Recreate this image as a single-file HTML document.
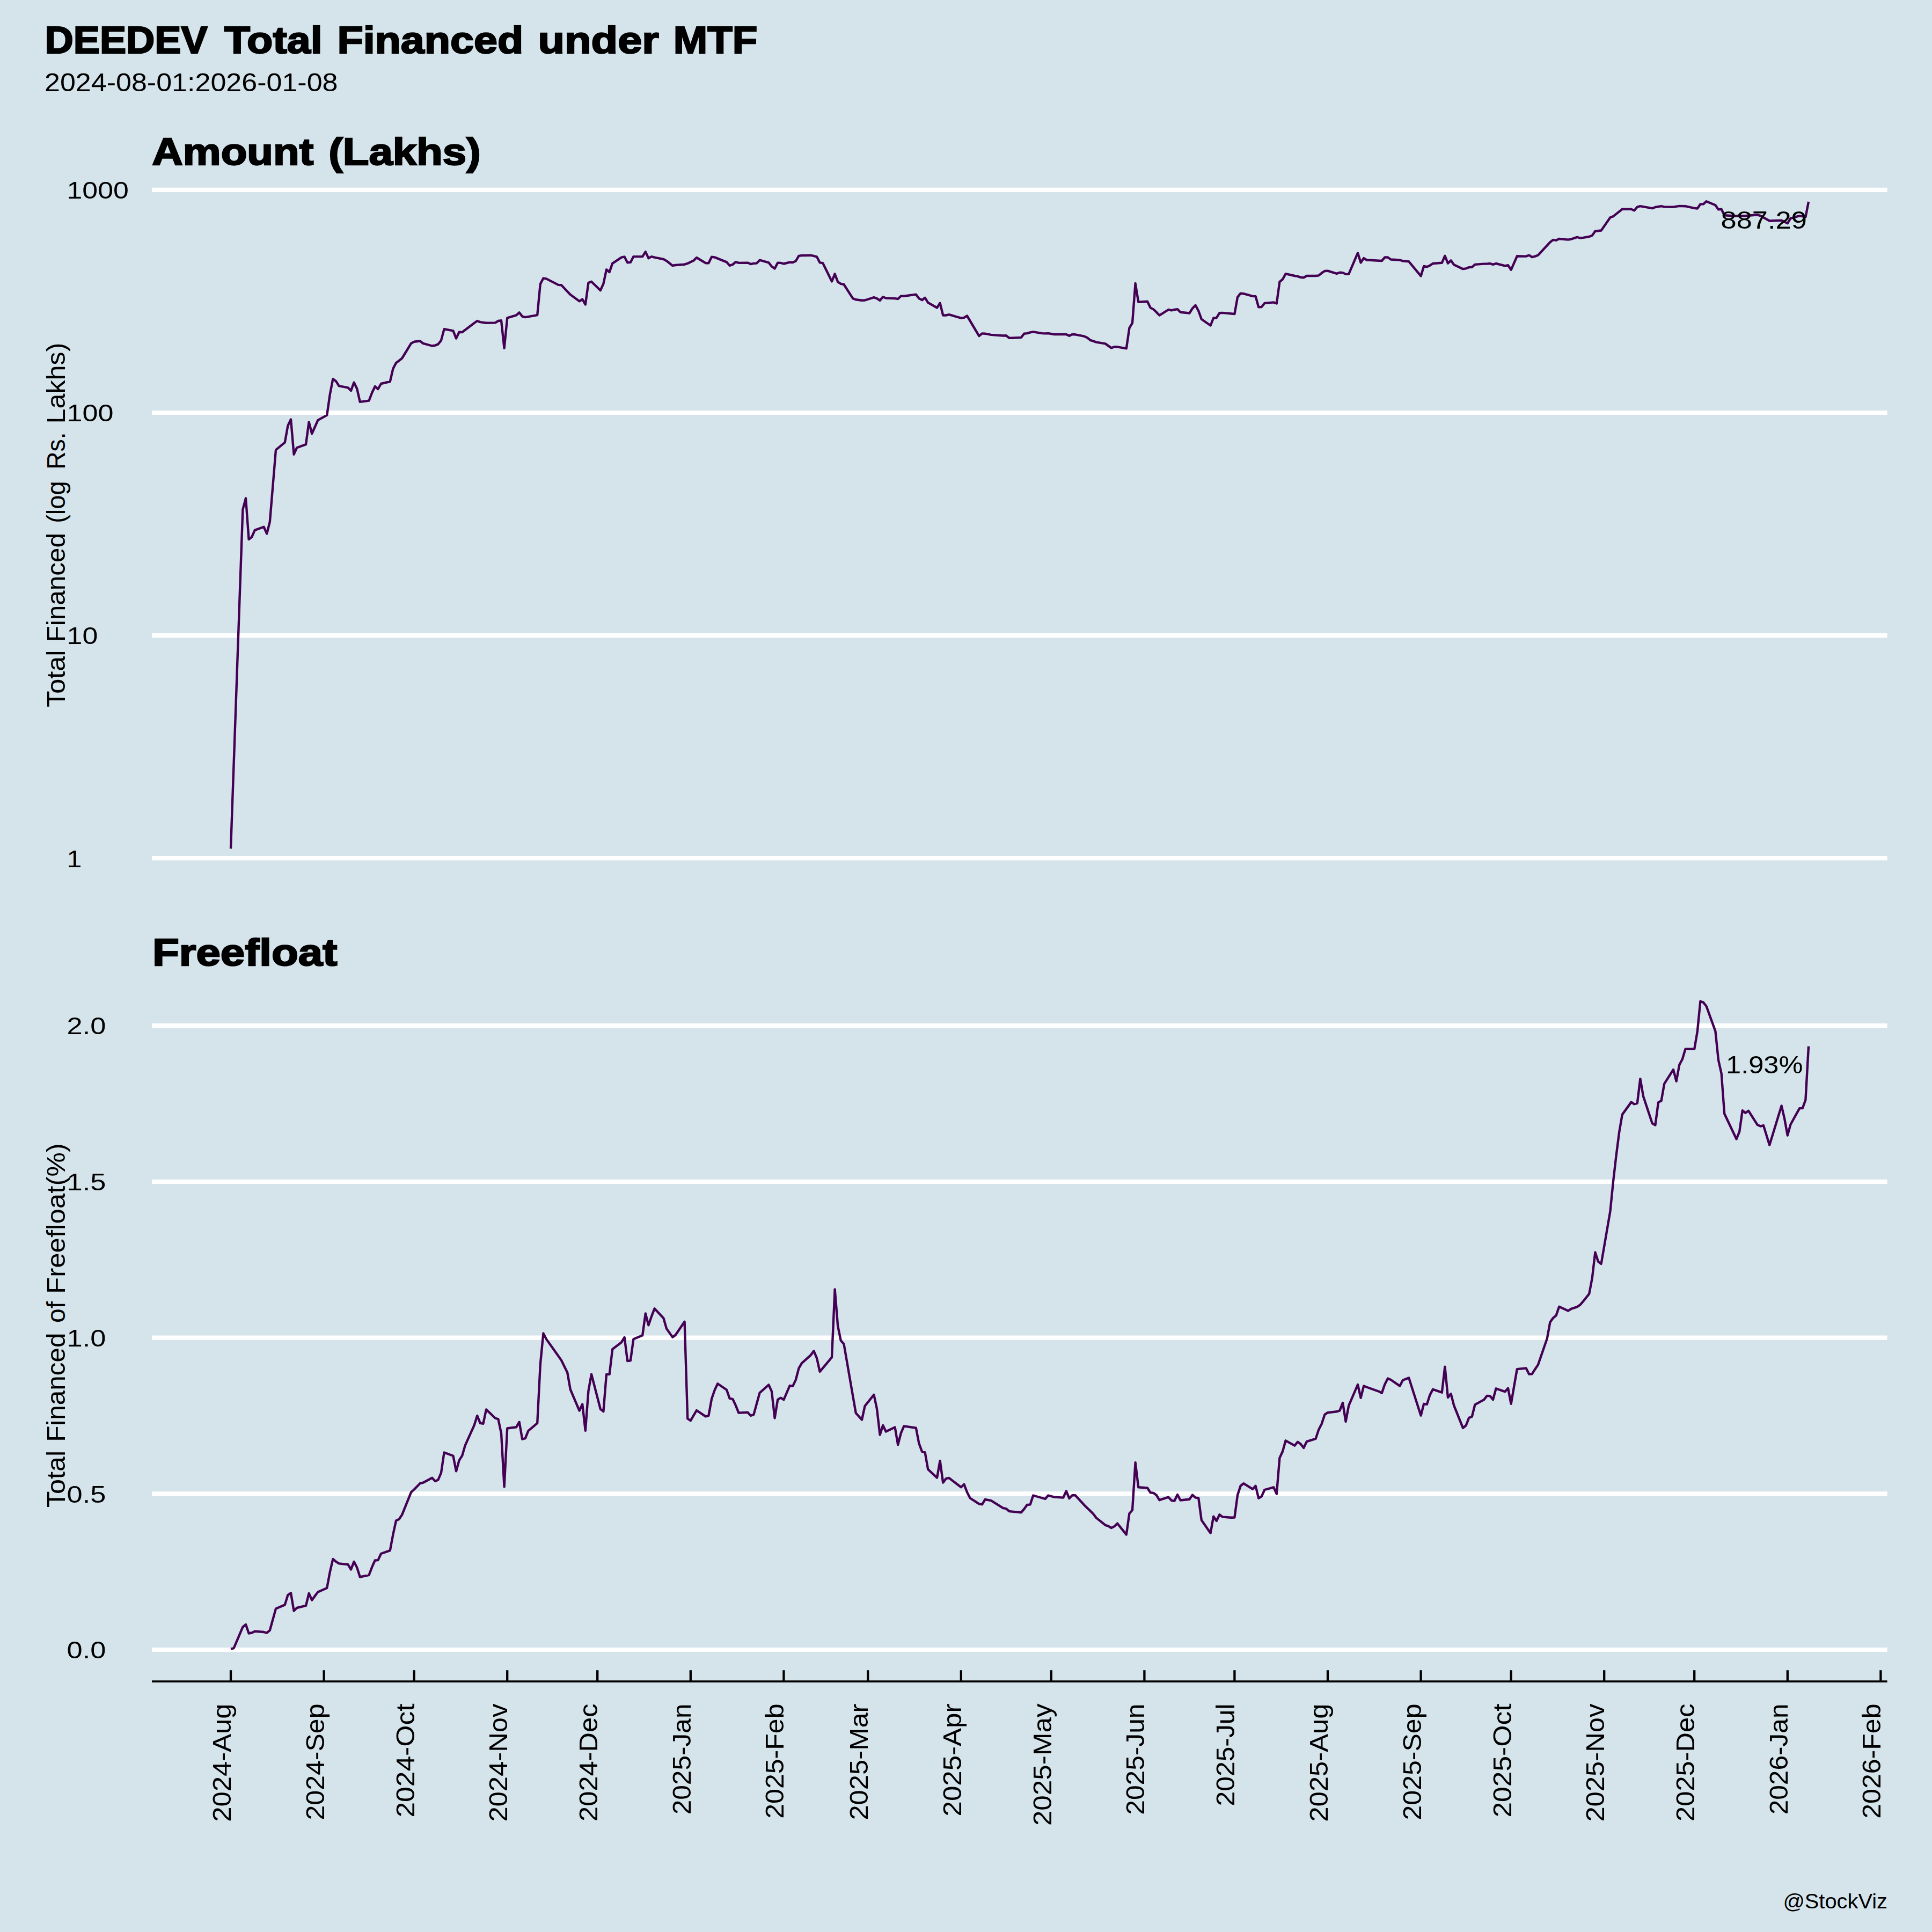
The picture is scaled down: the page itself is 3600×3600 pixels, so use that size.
<!DOCTYPE html>
<html><head><meta charset="utf-8"><title>DEEDEV Total Financed under MTF</title>
<style>
html,body{margin:0;padding:0;background:#d5e4eb;}
svg{display:block;font-family:"Liberation Sans",sans-serif;}
</style></head>
<body>
<svg width="3600" height="3600" viewBox="0 0 3600 3600">
<rect width="3600" height="3600" fill="#d5e4eb"/>
<g stroke="#fff" stroke-width="8.2"><line x1="283.0" x2="3516.6" y1="353.9" y2="353.9"/><line x1="283.0" x2="3516.6" y1="769.0" y2="769.0"/><line x1="283.0" x2="3516.6" y1="1184.1" y2="1184.1"/><line x1="283.0" x2="3516.6" y1="1599.2" y2="1599.2"/><line x1="283.0" x2="3516.6" y1="1911.1" y2="1911.1"/><line x1="283.0" x2="3516.6" y1="2201.8" y2="2201.8"/><line x1="283.0" x2="3516.6" y1="2492.6" y2="2492.6"/><line x1="283.0" x2="3516.6" y1="2783.3" y2="2783.3"/><line x1="283.0" x2="3516.6" y1="3074.0" y2="3074.0"/></g>
<g fill="none" stroke="#440154" stroke-width="4.4" stroke-linejoin="round" stroke-linecap="butt">
<polyline points="430.0,1581.4 452.4,949.2 458.0,928.3 463.6,1005.1 469.2,1000.5 474.8,987.9 491.6,981.8 497.2,994.4 502.8,972.5 514.0,838.4 530.8,824.4 536.4,793.2 542.0,781.5 547.6,846.7 553.2,834.2 570.0,828.1 575.6,786.2 581.2,808.1 586.8,795.5 592.4,782.9 609.2,773.6 614.8,734.9 620.4,706.1 626.0,710.2 631.6,719.1 648.4,722.4 654.0,728.0 659.6,712.6 665.2,724.2 670.8,748.9 687.6,746.6 693.2,731.7 698.8,720.0 704.4,725.0 710.0,715.0 726.8,711.0 732.4,687.1 738.0,676.2 743.6,671.9 749.2,667.5 766.0,639.9 771.6,636.8 782.8,635.5 788.4,639.9 805.2,644.5 810.8,643.6 816.4,641.4 822.0,634.3 827.6,613.2 844.4,616.3 850.0,630.6 855.6,618.8 861.2,619.1 866.8,614.7 883.6,602.0 889.2,598.0 894.8,600.1 906.0,601.7 922.8,601.4 928.4,598.0 934.0,597.3 939.6,648.9 945.2,592.4 962.0,587.4 967.6,582.4 973.2,589.6 978.8,591.1 1001.2,587.1 1006.8,529.3 1012.4,518.4 1018.0,519.4 1040.4,530.9 1046.0,531.2 1062.8,548.9 1079.6,561.3 1085.2,557.6 1090.8,567.5 1096.4,527.1 1102.0,524.7 1118.8,541.1 1124.4,528.7 1130.0,502.3 1135.6,507.0 1141.2,490.8 1158.0,479.6 1163.6,478.4 1169.2,489.3 1174.8,488.9 1180.4,478.1 1197.2,478.1 1202.8,469.1 1208.4,481.2 1214.0,478.1 1219.6,479.6 1236.4,483.0 1242.0,486.1 1253.2,494.9 1258.8,494.0 1275.6,492.7 1281.2,490.9 1292.4,485.6 1298.0,480.0 1314.8,490.2 1320.4,490.2 1326.0,478.8 1331.6,479.4 1354.0,488.4 1359.6,494.9 1365.2,493.0 1370.8,488.1 1376.4,489.9 1393.2,489.6 1398.8,492.1 1404.4,490.9 1410.0,490.6 1415.6,484.7 1432.4,489.3 1438.0,496.5 1443.6,500.5 1449.2,489.6 1454.8,489.9 1460.4,491.5 1471.6,488.7 1477.2,489.0 1482.8,486.5 1488.4,476.9 1494.0,476.0 1510.8,475.7 1522.0,478.4 1527.6,489.3 1533.2,490.2 1550.0,524.4 1555.6,510.4 1561.2,525.3 1566.8,528.8 1572.4,530.0 1589.2,556.1 1594.8,558.3 1606.0,559.8 1611.6,559.5 1628.4,554.2 1634.0,556.1 1639.6,559.8 1645.2,553.3 1650.8,555.5 1667.6,556.1 1673.2,557.0 1678.8,551.7 1684.4,551.7 1706.8,548.6 1712.4,556.1 1718.0,559.2 1723.6,554.8 1729.2,563.9 1746.0,573.5 1751.6,564.8 1757.2,587.5 1762.8,587.5 1768.4,586.2 1790.8,592.7 1796.4,591.8 1802.0,588.5 1824.4,626.1 1830.0,621.4 1835.6,621.7 1846.8,623.9 1869.2,625.5 1874.8,625.2 1880.4,629.8 1886.0,629.8 1902.8,628.9 1908.4,621.7 1914.0,621.1 1919.6,619.3 1925.2,618.3 1942.0,621.1 1947.6,621.4 1953.2,621.1 1964.4,623.0 1986.8,623.0 1992.4,625.8 1998.0,623.0 2003.6,623.3 2020.4,626.7 2026.0,629.2 2031.6,633.9 2037.2,635.7 2042.8,637.6 2059.6,640.4 2065.2,644.4 2070.8,648.4 2076.4,646.3 2082.0,646.3 2098.8,649.4 2104.4,611.2 2110.0,601.9 2115.6,528.0 2121.2,562.7 2138.0,561.8 2143.6,573.3 2149.2,576.4 2154.8,581.7 2160.4,587.6 2177.2,577.0 2182.8,578.3 2188.4,577.0 2194.0,576.1 2199.6,581.7 2216.4,583.5 2222.0,574.5 2227.6,568.9 2233.2,579.2 2238.8,594.7 2255.6,606.5 2261.2,592.5 2266.8,592.2 2272.4,583.2 2278.0,582.9 2294.8,584.5 2300.4,585.1 2306.0,553.7 2311.6,546.6 2317.2,547.2 2334.0,551.9 2339.6,552.2 2345.2,572.4 2350.8,572.0 2356.4,564.9 2373.2,563.4 2378.8,565.5 2384.4,525.2 2390.0,520.5 2395.6,510.2 2412.4,514.0 2418.0,514.9 2423.6,516.8 2429.2,517.4 2434.8,514.0 2451.6,514.0 2457.2,513.4 2462.8,508.7 2468.4,505.0 2474.0,504.7 2490.8,509.9 2496.4,507.8 2502.0,508.1 2507.6,510.9 2513.2,510.6 2530.0,471.4 2535.6,489.4 2541.2,481.1 2546.8,484.5 2552.4,484.8 2569.2,485.7 2574.8,486.0 2580.4,479.5 2586.0,479.5 2591.6,483.5 2608.4,484.5 2614.0,486.3 2625.2,487.3 2630.8,494.1 2647.6,514.3 2653.2,496.0 2658.8,497.2 2664.4,494.7 2670.0,491.0 2686.8,489.8 2692.4,476.7 2698.0,490.7 2703.6,485.4 2709.2,493.2 2726.0,501.2 2731.6,500.3 2737.2,498.1 2742.8,497.8 2748.4,492.9 2765.2,491.6 2770.8,491.6 2776.4,491.0 2782.0,492.9 2787.6,491.0 2804.4,495.3 2810.0,494.1 2815.6,502.8 2826.8,477.3 2843.6,477.6 2849.2,475.5 2854.8,479.2 2860.4,477.6 2866.0,475.5 2888.4,451.2 2894.0,446.9 2899.6,447.8 2905.2,445.0 2922.0,446.6 2927.6,445.7 2938.8,441.9 2944.4,443.5 2950.0,442.9 2961.2,441.0 2966.8,438.8 2972.4,430.7 2983.6,429.5 3000.4,405.3 3006.0,403.1 3022.8,389.8 3028.4,389.8 3039.6,389.8 3045.2,392.2 3050.8,385.7 3056.4,384.2 3078.8,388.2 3084.4,386.0 3095.6,384.2 3101.2,385.4 3118.0,385.7 3129.2,383.9 3140.4,384.2 3157.2,387.9 3162.8,388.5 3168.4,380.4 3174.0,380.4 3179.6,375.2 3196.4,382.3 3202.0,390.4 3207.6,389.8 3213.2,401.2 3230.0,402.2 3252.4,402.2 3274.8,400.3 3280.4,402.2 3297.2,411.5 3319.6,410.6 3330.8,416.1 3336.4,406.8 3342.0,405.3 3353.2,402.2 3358.8,403.1 3364.4,404.3 3370.0,375.8"/>
<polyline points="430.0,3072.7 435.6,3071.1 452.4,3031.7 458.0,3027.0 463.6,3043.5 469.2,3042.5 474.8,3039.8 491.6,3041.0 497.2,3042.5 502.8,3037.9 514.0,2997.5 530.8,2990.4 536.4,2972.0 542.0,2968.3 547.6,3001.6 553.2,2996.0 570.0,2991.9 575.6,2968.9 581.2,2981.7 586.8,2973.9 592.4,2966.5 609.2,2959.0 614.8,2929.2 620.4,2905.0 626.0,2909.9 631.6,2913.4 648.4,2915.2 654.0,2924.5 659.6,2909.9 665.2,2920.8 670.8,2938.5 687.6,2934.8 693.2,2919.9 698.8,2907.5 704.4,2907.1 710.0,2895.0 726.8,2889.1 732.4,2859.3 738.0,2833.5 743.6,2830.7 749.2,2822.4 766.0,2780.7 771.6,2775.5 782.8,2764.0 788.4,2762.7 805.2,2753.7 810.8,2759.9 816.4,2757.5 822.0,2744.4 827.6,2706.5 844.4,2712.7 850.0,2741.3 855.6,2721.1 861.2,2712.4 866.8,2693.2 883.6,2655.9 889.2,2637.9 894.8,2651.9 900.4,2652.8 906.0,2626.4 922.8,2642.5 928.4,2644.4 934.0,2670.8 939.6,2770.5 945.2,2661.5 962.0,2659.3 967.6,2649.7 973.2,2681.7 978.8,2680.1 984.4,2666.1 1001.2,2651.9 1006.8,2542.5 1012.4,2484.5 1018.0,2495.3 1040.4,2526.7 1046.0,2534.8 1057.2,2557.5 1062.8,2589.1 1079.6,2628.6 1085.2,2616.5 1090.8,2665.8 1096.4,2592.2 1102.0,2560.6 1118.8,2625.5 1124.4,2630.1 1130.0,2560.9 1135.6,2560.9 1141.2,2514.0 1158.0,2501.2 1163.6,2491.9 1169.2,2536.0 1174.8,2535.4 1180.4,2495.3 1197.2,2488.2 1202.8,2447.5 1208.4,2469.3 1214.0,2453.1 1219.6,2438.2 1236.4,2456.2 1242.0,2475.8 1253.2,2491.6 1258.8,2487.6 1275.6,2462.7 1281.2,2643.5 1286.8,2647.2 1298.0,2628.0 1314.8,2639.4 1320.4,2637.9 1326.0,2606.8 1331.6,2590.4 1337.2,2578.3 1354.0,2589.8 1359.6,2605.9 1365.2,2606.8 1370.8,2618.6 1376.4,2632.6 1393.2,2631.7 1398.8,2637.9 1404.4,2636.0 1410.0,2615.5 1415.6,2595.3 1432.4,2580.4 1438.0,2592.9 1443.6,2642.5 1449.2,2607.8 1454.8,2604.7 1460.4,2608.1 1471.6,2582.0 1477.2,2582.9 1482.8,2571.1 1488.4,2549.7 1494.0,2540.1 1510.8,2525.0 1516.4,2517.3 1522.0,2530.6 1527.6,2555.8 1533.2,2549.3 1550.0,2529.1 1555.6,2402.4 1561.2,2471.0 1566.8,2498.0 1572.4,2504.2 1589.2,2601.1 1594.8,2633.1 1606.0,2645.5 1611.6,2619.8 1628.4,2598.9 1634.0,2625.3 1639.6,2673.5 1645.2,2655.8 1650.8,2667.6 1667.6,2659.5 1673.2,2692.1 1678.8,2670.4 1684.4,2657.3 1706.8,2660.7 1712.4,2689.6 1718.0,2704.8 1723.6,2706.4 1729.2,2737.8 1746.0,2753.6 1751.6,2721.9 1757.2,2762.6 1762.8,2755.2 1768.4,2753.9 1790.8,2771.3 1796.4,2765.7 1802.0,2780.6 1807.6,2791.5 1824.4,2802.4 1830.0,2803.3 1835.6,2794.0 1846.8,2796.1 1869.2,2810.1 1874.8,2811.1 1880.4,2816.0 1886.0,2816.6 1902.8,2818.2 1908.4,2811.7 1914.0,2803.9 1919.6,2803.6 1925.2,2786.5 1947.6,2793.0 1953.2,2786.5 1964.4,2789.6 1981.2,2790.6 1986.8,2778.4 1992.4,2792.1 1998.0,2786.2 2003.6,2786.2 2020.4,2804.5 2026.0,2810.1 2031.6,2815.4 2037.2,2821.0 2042.8,2828.4 2059.6,2841.8 2065.2,2843.7 2070.8,2847.1 2076.4,2844.3 2082.0,2838.7 2098.8,2859.5 2104.4,2820.1 2110.0,2813.9 2115.6,2725.3 2121.2,2771.3 2138.0,2772.5 2143.6,2781.2 2149.2,2781.9 2154.8,2785.9 2160.4,2795.2 2177.2,2789.6 2182.8,2795.8 2188.4,2796.8 2194.0,2785.0 2199.6,2795.5 2216.4,2793.7 2222.0,2785.6 2227.6,2790.6 2233.2,2791.2 2238.8,2832.5 2255.6,2856.7 2261.2,2825.7 2266.8,2834.0 2272.4,2822.2 2278.0,2826.6 2294.8,2827.8 2300.4,2827.5 2306.0,2785.9 2311.6,2768.8 2317.2,2764.2 2334.0,2774.7 2339.6,2768.8 2345.2,2791.8 2350.8,2788.4 2356.4,2776.0 2373.2,2771.3 2378.8,2783.7 2384.4,2716.6 2390.0,2704.5 2395.6,2684.3 2412.4,2693.7 2418.0,2686.8 2423.6,2690.6 2429.2,2698.0 2434.8,2686.2 2451.6,2680.9 2457.2,2663.9 2462.8,2653.0 2468.4,2635.9 2474.0,2632.2 2490.8,2630.3 2496.4,2628.4 2502.0,2613.9 2507.6,2648.9 2513.2,2619.1 2530.0,2580.0 2535.6,2604.8 2541.2,2582.5 2546.8,2584.7 2569.2,2592.7 2574.8,2595.8 2580.4,2579.4 2586.0,2568.5 2591.6,2571.0 2608.4,2582.6 2614.0,2571.7 2625.2,2567.4 2630.8,2585.1 2647.6,2637.6 2653.2,2615.8 2658.8,2616.8 2664.4,2599.4 2670.0,2588.8 2686.8,2594.7 2692.4,2546.6 2698.0,2604.0 2703.6,2597.2 2709.2,2618.9 2726.0,2660.9 2731.6,2656.2 2737.2,2641.9 2742.8,2639.8 2748.4,2617.4 2765.2,2608.1 2770.8,2600.9 2776.4,2601.2 2782.0,2608.1 2787.6,2587.3 2804.4,2593.2 2810.0,2586.6 2815.6,2615.8 2826.8,2551.2 2843.6,2549.4 2849.2,2560.6 2854.8,2560.2 2860.4,2551.2 2866.0,2542.9 2882.8,2494.1 2888.4,2463.7 2894.0,2455.9 2899.6,2451.2 2905.2,2434.8 2922.0,2442.5 2927.6,2438.8 2938.8,2435.1 2944.4,2431.4 2950.0,2424.8 2961.2,2410.9 2966.8,2381.4 2972.4,2333.5 2978.0,2350.9 2983.6,2355.0 3000.4,2257.1 3006.0,2201.6 3011.6,2153.0 3017.2,2109.5 3022.8,2076.9 3039.6,2053.6 3045.2,2057.3 3050.8,2055.8 3056.4,2010.1 3062.0,2042.7 3078.8,2093.4 3084.4,2096.5 3090.0,2054.2 3095.6,2051.1 3101.2,2019.4 3118.0,1993.0 3123.6,2014.8 3129.2,1984.3 3134.8,1973.8 3140.4,1954.8 3157.2,1954.8 3162.8,1922.2 3168.4,1865.7 3174.0,1867.9 3179.6,1875.0 3196.4,1921.6 3202.0,1975.3 3207.6,2000.2 3213.2,2075.3 3235.6,2122.5 3241.2,2108.6 3246.8,2069.1 3252.4,2073.8 3258.0,2069.8 3274.8,2096.1 3280.4,2098.6 3286.0,2097.1 3297.2,2133.7 3319.6,2060.4 3325.2,2084.7 3330.8,2115.7 3336.4,2095.5 3342.0,2085.3 3353.2,2065.1 3358.8,2065.1 3364.4,2049.6 3370.0,1949.6"/>
</g>
<g stroke="#000" stroke-width="3.8"><line x1="283.0" x2="3516.6" y1="3133.1" y2="3133.1"/></g>
<g stroke="#000" stroke-width="4.3"><line x1="430.0" x2="430.0" y1="3112.2" y2="3133"/><line x1="603.6" x2="603.6" y1="3112.2" y2="3133"/><line x1="771.6" x2="771.6" y1="3112.2" y2="3133"/><line x1="945.2" x2="945.2" y1="3112.2" y2="3133"/><line x1="1113.2" x2="1113.2" y1="3112.2" y2="3133"/><line x1="1286.8" x2="1286.8" y1="3112.2" y2="3133"/><line x1="1460.4" x2="1460.4" y1="3112.2" y2="3133"/><line x1="1617.2" x2="1617.2" y1="3112.2" y2="3133"/><line x1="1790.8" x2="1790.8" y1="3112.2" y2="3133"/><line x1="1958.8" x2="1958.8" y1="3112.2" y2="3133"/><line x1="2132.4" x2="2132.4" y1="3112.2" y2="3133"/><line x1="2300.4" x2="2300.4" y1="3112.2" y2="3133"/><line x1="2474.0" x2="2474.0" y1="3112.2" y2="3133"/><line x1="2647.6" x2="2647.6" y1="3112.2" y2="3133"/><line x1="2815.6" x2="2815.6" y1="3112.2" y2="3133"/><line x1="2989.2" x2="2989.2" y1="3112.2" y2="3133"/><line x1="3157.2" x2="3157.2" y1="3112.2" y2="3133"/><line x1="3330.8" x2="3330.8" y1="3112.2" y2="3133"/><line x1="3504.4" x2="3504.4" y1="3112.2" y2="3133"/></g>
<g fill="#000">
<text x="83.57" y="99.4" font-size="69.6" font-weight="bold" stroke="#000" stroke-width="2.4" stroke-linejoin="miter" textLength="303.12" lengthAdjust="spacingAndGlyphs">DEEDEV</text>
<text x="417.69" y="99.4" font-size="69.6" font-weight="bold" stroke="#000" stroke-width="2.4" stroke-linejoin="miter" textLength="182.99" lengthAdjust="spacingAndGlyphs">Total</text>
<text x="628.42" y="99.4" font-size="69.6" font-weight="bold" stroke="#000" stroke-width="2.4" stroke-linejoin="miter" textLength="346.76" lengthAdjust="spacingAndGlyphs">Financed</text>
<text x="1002.44" y="99.4" font-size="69.6" font-weight="bold" stroke="#000" stroke-width="2.4" stroke-linejoin="miter" textLength="225.46" lengthAdjust="spacingAndGlyphs">under</text>
<text x="1254.86" y="99.4" font-size="69.6" font-weight="bold" stroke="#000" stroke-width="2.4" stroke-linejoin="miter" textLength="156.48" lengthAdjust="spacingAndGlyphs">MTF</text>
<text x="283.2" y="307.4" font-size="69.6" font-weight="bold" stroke="#000" stroke-width="2.4" stroke-linejoin="miter" textLength="301.1" lengthAdjust="spacingAndGlyphs">Amount</text>
<text x="612.15" y="307.4" font-size="69.6" font-weight="bold" stroke="#000" stroke-width="2.4" stroke-linejoin="miter" textLength="283.6" lengthAdjust="spacingAndGlyphs">(Lakhs)</text>
<text x="121.5" y="1318.05" font-size="47.2" textLength="106.42" lengthAdjust="spacingAndGlyphs" transform="rotate(-90 121.5 1318.05)">Total</text>
<text x="121.5" y="1196.46" font-size="47.2" textLength="203.36" lengthAdjust="spacingAndGlyphs" transform="rotate(-90 121.5 1196.46)">Financed</text>
<text x="121.5" y="974.85" font-size="47.2" textLength="78.7" lengthAdjust="spacingAndGlyphs" transform="rotate(-90 121.5 974.85)">(log</text>
<text x="121.5" y="874.76" font-size="47.2" textLength="69.33" lengthAdjust="spacingAndGlyphs" transform="rotate(-90 121.5 874.76)">Rs.</text>
<text x="121.5" y="789.51" font-size="47.2" textLength="150.89" lengthAdjust="spacingAndGlyphs" transform="rotate(-90 121.5 789.51)">Lakhs)</text>
<text x="121.5" y="2809.14" font-size="47.2" textLength="106.39" lengthAdjust="spacingAndGlyphs" transform="rotate(-90 121.5 2809.14)">Total</text>
<text x="121.5" y="2686.85" font-size="47.2" textLength="203.36" lengthAdjust="spacingAndGlyphs" transform="rotate(-90 121.5 2686.85)">Financed</text>
<text x="121.5" y="2465.03" font-size="47.2" textLength="40.33" lengthAdjust="spacingAndGlyphs" transform="rotate(-90 121.5 2465.03)">of</text>
<text x="121.5" y="2411.02" font-size="47.2" textLength="280.8" lengthAdjust="spacingAndGlyphs" transform="rotate(-90 121.5 2411.02)">Freefloat(%)</text>
<text x="83" y="170.2" font-size="47.2" textLength="546.5" lengthAdjust="spacingAndGlyphs">2024-08-01:2026-01-08</text>
<text x="283.9" y="1799" font-size="69.6" font-weight="bold" stroke="#000" stroke-width="2.4" stroke-linejoin="miter" textLength="344.5" lengthAdjust="spacingAndGlyphs">Freefloat</text>
<text x="124.5" y="370.2" font-size="45" textLength="115.4" lengthAdjust="spacingAndGlyphs">1000</text>
<text x="124.5" y="785.3" font-size="45" textLength="87" lengthAdjust="spacingAndGlyphs">100</text>
<text x="124.5" y="1200.3999999999999" font-size="45" textLength="57.8" lengthAdjust="spacingAndGlyphs">10</text>
<text x="124.5" y="1615.5" font-size="45" textLength="27.8" lengthAdjust="spacingAndGlyphs">1</text>
<text x="124.5" y="1927.3999999999999" font-size="45" textLength="72.9" lengthAdjust="spacingAndGlyphs">2.0</text>
<text x="124.5" y="2218.1000000000004" font-size="45" textLength="72.9" lengthAdjust="spacingAndGlyphs">1.5</text>
<text x="124.5" y="2508.9" font-size="45" textLength="72.9" lengthAdjust="spacingAndGlyphs">1.0</text>
<text x="124.5" y="2799.6000000000004" font-size="45" textLength="72.9" lengthAdjust="spacingAndGlyphs">0.5</text>
<text x="124.5" y="3090.3" font-size="45" textLength="72.9" lengthAdjust="spacingAndGlyphs">0.0</text>
<text x="430.0" y="3174.5" font-size="47.2" text-anchor="end" textLength="220.2" lengthAdjust="spacingAndGlyphs" transform="rotate(-90 430.0 3174.5)">2024-Aug</text>
<text x="603.6" y="3174.5" font-size="47.2" text-anchor="end" textLength="217.0" lengthAdjust="spacingAndGlyphs" transform="rotate(-90 603.6 3174.5)">2024-Sep</text>
<text x="771.6" y="3174.5" font-size="47.2" text-anchor="end" textLength="212.1" lengthAdjust="spacingAndGlyphs" transform="rotate(-90 771.6 3174.5)">2024-Oct</text>
<text x="945.2" y="3174.5" font-size="47.2" text-anchor="end" textLength="220.1" lengthAdjust="spacingAndGlyphs" transform="rotate(-90 945.2 3174.5)">2024-Nov</text>
<text x="1113.2" y="3174.5" font-size="47.2" text-anchor="end" textLength="219.4" lengthAdjust="spacingAndGlyphs" transform="rotate(-90 1113.2 3174.5)">2024-Dec</text>
<text x="1286.8" y="3174.5" font-size="47.2" text-anchor="end" textLength="206.8" lengthAdjust="spacingAndGlyphs" transform="rotate(-90 1286.8 3174.5)">2025-Jan</text>
<text x="1460.4" y="3174.5" font-size="47.2" text-anchor="end" textLength="214.3" lengthAdjust="spacingAndGlyphs" transform="rotate(-90 1460.4 3174.5)">2025-Feb</text>
<text x="1617.2" y="3174.5" font-size="47.2" text-anchor="end" textLength="217.1" lengthAdjust="spacingAndGlyphs" transform="rotate(-90 1617.2 3174.5)">2025-Mar</text>
<text x="1790.8" y="3174.5" font-size="47.2" text-anchor="end" textLength="210.0" lengthAdjust="spacingAndGlyphs" transform="rotate(-90 1790.8 3174.5)">2025-Apr</text>
<text x="1958.8" y="3174.5" font-size="47.2" text-anchor="end" textLength="227.6" lengthAdjust="spacingAndGlyphs" transform="rotate(-90 1958.8 3174.5)">2025-May</text>
<text x="2132.4" y="3174.5" font-size="47.2" text-anchor="end" textLength="207.2" lengthAdjust="spacingAndGlyphs" transform="rotate(-90 2132.4 3174.5)">2025-Jun</text>
<text x="2300.4" y="3174.5" font-size="47.2" text-anchor="end" textLength="190.9" lengthAdjust="spacingAndGlyphs" transform="rotate(-90 2300.4 3174.5)">2025-Jul</text>
<text x="2474.0" y="3174.5" font-size="47.2" text-anchor="end" textLength="220.2" lengthAdjust="spacingAndGlyphs" transform="rotate(-90 2474.0 3174.5)">2025-Aug</text>
<text x="2647.6" y="3174.5" font-size="47.2" text-anchor="end" textLength="217.0" lengthAdjust="spacingAndGlyphs" transform="rotate(-90 2647.6 3174.5)">2025-Sep</text>
<text x="2815.6" y="3174.5" font-size="47.2" text-anchor="end" textLength="212.1" lengthAdjust="spacingAndGlyphs" transform="rotate(-90 2815.6 3174.5)">2025-Oct</text>
<text x="2989.2" y="3174.5" font-size="47.2" text-anchor="end" textLength="220.1" lengthAdjust="spacingAndGlyphs" transform="rotate(-90 2989.2 3174.5)">2025-Nov</text>
<text x="3157.2" y="3174.5" font-size="47.2" text-anchor="end" textLength="219.4" lengthAdjust="spacingAndGlyphs" transform="rotate(-90 3157.2 3174.5)">2025-Dec</text>
<text x="3330.8" y="3174.5" font-size="47.2" text-anchor="end" textLength="206.8" lengthAdjust="spacingAndGlyphs" transform="rotate(-90 3330.8 3174.5)">2026-Jan</text>
<text x="3504.4" y="3174.5" font-size="47.2" text-anchor="end" textLength="214.3" lengthAdjust="spacingAndGlyphs" transform="rotate(-90 3504.4 3174.5)">2026-Feb</text>
<text x="3517" y="3556.2" font-size="38.5" text-anchor="end" textLength="194.6" lengthAdjust="spacingAndGlyphs">@StockViz</text>
<text x="3206.5" y="426.4" font-size="46.5" textLength="160.3" lengthAdjust="spacingAndGlyphs">887.29</text>
<text x="3216" y="2000" font-size="46.5" textLength="143.5" lengthAdjust="spacingAndGlyphs">1.93%</text>
</g>
</svg>
</body></html>
